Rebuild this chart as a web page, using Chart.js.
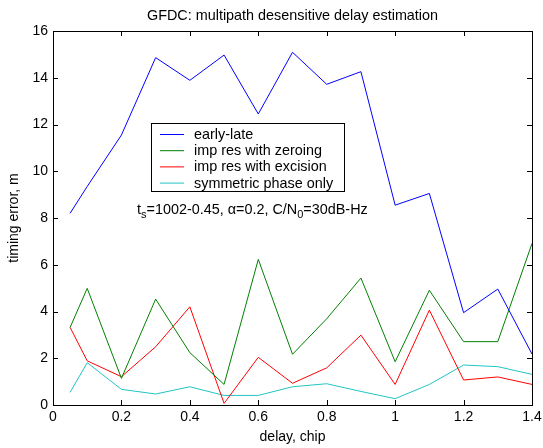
<!DOCTYPE html>
<html>
<head>
<meta charset="utf-8">
<script src="https://cdn.jsdelivr.net/npm/chart.js@4/dist/chart.umd.min.js"></script>
<style>
  html, body { margin: 0; padding: 0; background: #fff; }
  #wrap { width: 543px; height: 448px; position: relative; }
</style>
</head>
<body>
<div id="wrap"><canvas id="chart"></canvas></div>
<script>
// ── datos ─────────────────────────────────
const DELAYS     = [0.05, 0.1, 0.2, 0.3, 0.4, 0.5, 0.6, 0.7, 0.8, 0.9, 1.0, 1.1, 1.2, 1.3, 1.4];
const EARLY_LATE = [8.2, 9.35, 11.55, 14.86, 13.89, 14.97, 12.45, 15.09, 13.72, 14.26, 8.55, 9.05, 3.95, 4.96, 2.18];
const ZEROING    = [3.32, 4.99, 1.14, 4.53, 2.24, 0.88, 6.23, 2.17, 3.69, 5.43, 1.85, 4.91, 2.71, 2.71, 6.91];
const EXCISION   = [3.32, 1.89, 1.21, 2.49, 4.2, 0.07, 2.04, 0.93, 1.59, 2.99, 0.88, 4.06, 1.07, 1.2, 0.88];
const SYM_PHASE  = [0.54, 1.81, 0.67, 0.47, 0.78, 0.41, 0.41, 0.78, 0.91, 0.58, 0.27, 0.88, 1.71, 1.64, 1.31];

const SERIES_LABELS = ['early-late', 'imp res with zeroing', 'imp res with excision', 'symmetric phase only'];
const SERIES_COLORS = ['#0000ff', '#008000', '#ff0000', '#22c4c4'];
const X_TICKS = [0, 0.2, 0.4, 0.6, 0.8, 1, 1.2, 1.4];
const Y_TICKS = [0, 2, 4, 6, 8, 10, 12, 14, 16];
const TITLE = 'GFDC: multipath desensitive delay estimation';

const FONT = 'Liberation Sans, Arial, Helvetica, sans-serif';
const FS = 14.4;

const toPoints = arr => arr.map((v, i) => ({ x: DELAYS[i], y: v }));

// ── título, caja, ticks hacia dentro, leyenda y anotación (estilo MATLAB) ──
const matlabFrame = {
  id: 'matlabFrame',
  afterDraw(chart) {
    const { ctx, chartArea: a, scales: { x, y } } = chart;
    ctx.save();

    // título centrado sobre el área del gráfico
    ctx.fillStyle = '#000';
    ctx.font = FS + 'px ' + FONT;
    ctx.textAlign = 'center';
    ctx.textBaseline = 'middle';
    ctx.fillText(TITLE, (a.left + a.right) / 2, 16);
    ctx.textAlign = 'left';

    ctx.strokeStyle = '#000';
    ctx.lineWidth = 1;
    ctx.strokeRect(Math.round(a.left) + 0.5, Math.round(a.top) + 0.5,
                   Math.round(a.right - a.left), Math.round(a.bottom - a.top));
    ctx.beginPath();
    X_TICKS.forEach(t => {
      const px = Math.round(x.getPixelForValue(t)) + 0.5;
      ctx.moveTo(px, a.bottom); ctx.lineTo(px, a.bottom - 5);
      ctx.moveTo(px, a.top);    ctx.lineTo(px, a.top + 5);
    });
    Y_TICKS.forEach(t => {
      const py = Math.round(y.getPixelForValue(t)) + 0.5;
      ctx.moveTo(a.left, py);  ctx.lineTo(a.left + 5, py);
      ctx.moveTo(a.right, py); ctx.lineTo(a.right - 5, py);
    });
    ctx.stroke();

    // leyenda
    const bx = 151.5, by = 123.5, bw = 193, bh = 68;
    ctx.fillStyle = '#fff';
    ctx.fillRect(bx, by, bw, bh);
    ctx.strokeRect(bx, by, bw, bh);
    ctx.font = FS + 'px ' + FONT;
    ctx.textBaseline = 'middle';
    chart.data.datasets.forEach((ds, i) => {
      const yy = 134.5 + i * 16.2;
      ctx.strokeStyle = ds.borderColor;
      ctx.beginPath(); ctx.moveTo(160, yy); ctx.lineTo(184, yy); ctx.stroke();
      ctx.fillStyle = '#000';
      ctx.fillText(ds.label, 194, yy + 0.5);
    });

    // anotación con subíndices
    ctx.textBaseline = 'alphabetic';
    let cx = 137;
    const base = 214;
    const parts = [['t', 0], ['s', 1], ['=1002-0.45, \u03b1=0.2, C/N', 0], ['0', 1], ['=30dB-Hz', 0]];
    parts.forEach(([txt, sub]) => {
      ctx.font = (sub ? '11px ' : FS + 'px ') + FONT;
      ctx.fillText(txt, cx, base + (sub ? 4 : 0));
      cx += ctx.measureText(txt).width;
    });
    ctx.restore();
  }
};

new Chart(document.getElementById('chart'), {
  type: 'line',
  data: {
    datasets: [EARLY_LATE, ZEROING, EXCISION, SYM_PHASE].map((vals, i) => ({
      label: SERIES_LABELS[i],
      data: toPoints(vals),
      borderColor: SERIES_COLORS[i],
      backgroundColor: SERIES_COLORS[i],
      borderWidth: 1,
      pointRadius: 0,
      tension: 0,
      fill: false
    }))
  },
  options: {
    responsive: true,
    maintainAspectRatio: false,
    animation: false,
    layout: { padding: { left: 0, right: 11, top: 31, bottom: 0 } },
    plugins: {
      legend: { display: false },
      tooltip: { enabled: false },
      title: { display: false }
    },
    scales: {
      x: {
        type: 'linear',
        min: 0, max: 1.4,
        afterBuildTicks: s => { s.ticks = X_TICKS.map(v => ({ value: v })); },
        afterFit: s => { s.height = 43; s.paddingLeft = 0; s.paddingRight = 0; },
        grid: { display: false, drawTicks: false },
        border: { display: false },
        ticks: {
          color: '#000', padding: 4,
          font: { family: FONT, size: 14 },
          maxRotation: 0,
          callback: v => String(+v.toFixed(1))
        },
        title: {
          display: true, text: 'delay, chip', color: '#000',
          font: { family: FONT, size: 14 },
          padding: { top: 0, bottom: 2 }
        }
      },
      y: {
        min: 0, max: 16,
        afterBuildTicks: s => { s.ticks = Y_TICKS.map(v => ({ value: v })); },
        afterFit: s => { s.width = 53; s.paddingTop = 0; s.paddingBottom = 0; },
        grid: { display: false, drawTicks: false },
        border: { display: false },
        ticks: {
          color: '#000', padding: 5,
          font: { family: FONT, size: 14 }
        },
        title: {
          display: true, text: 'timing error, m', color: '#000',
          font: { family: FONT, size: 14 },
          padding: { top: 6, bottom: 0 }
        }
      }
    }
  },
  plugins: [matlabFrame]
});
</script>
</body>
</html>
